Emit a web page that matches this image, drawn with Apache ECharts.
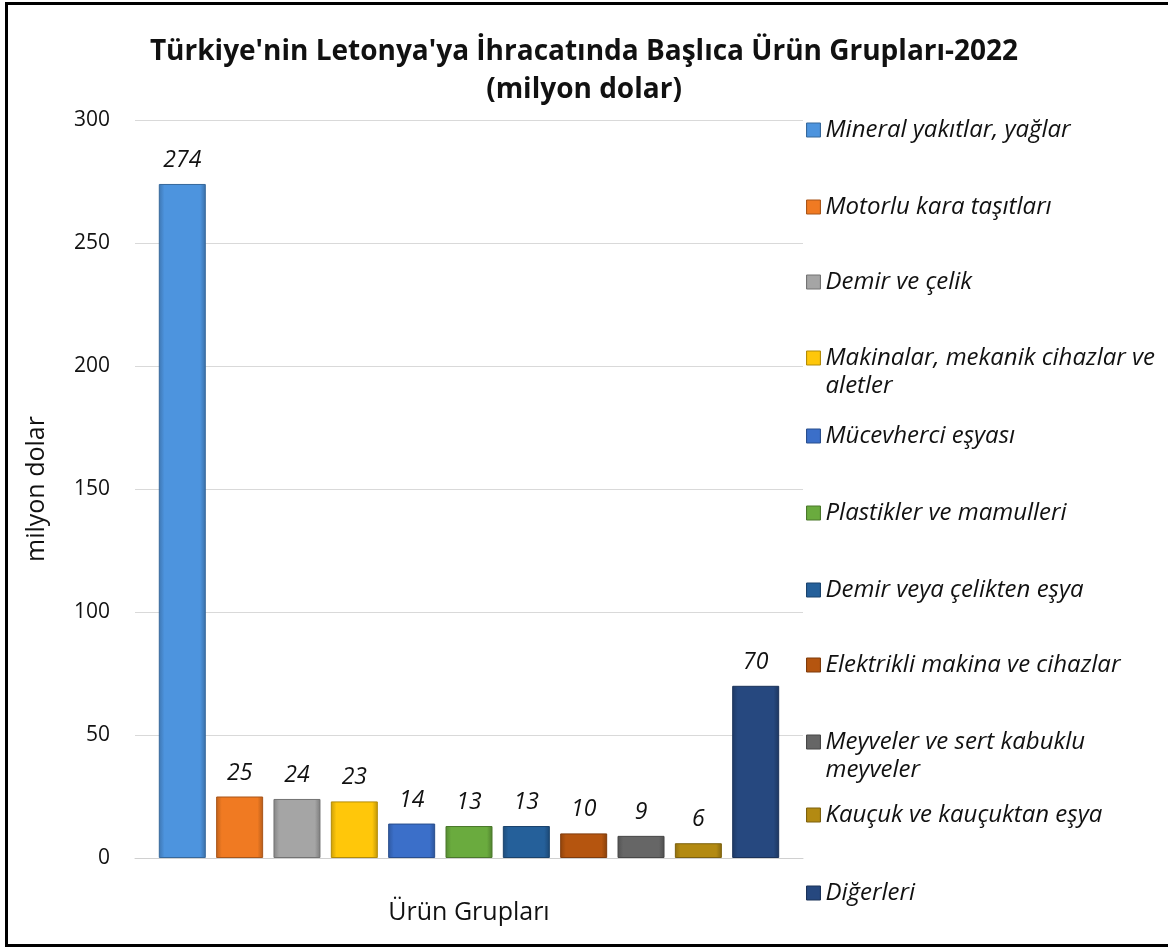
<!DOCTYPE html>
<html>
<head>
<meta charset="utf-8">
<script src="https://cdn.jsdelivr.net/npm/echarts@6/dist/echarts.min.js"></script>
<style>
    html, body {margin: 0; padding: 0; background: #fff;}
    #chart {width: 1168px; height: 950px;}
</style>
</head>
<body>
<div id="chart"></div>
<script>
// veriler
const productGroups = [
    'Mineral yakıtlar, yağlar',
    'Motorlu kara taşıtları',
    'Demir ve çelik',
    'Makinalar, mekanik cihazlar ve aletler',
    'Mücevherci eşyası',
    'Plastikler ve mamulleri',
    'Demir veya çelikten eşya',
    'Elektrikli makina ve cihazlar',
    'Meyveler ve sert kabuklu meyveler',
    'Kauçuk ve kauçuktan eşya',
    'Diğerleri',
]
const exportValues = [274, 25, 24, 23, 14, 13, 13, 10, 9, 6, 70]
const categories = ['Ürün Grupları']

const barColors = ['#4d94de', '#f07a22', '#a5a5a5', '#ffc70a', '#3b6fc9', '#6aab3e',
    '#25609a', '#b5550f', '#666666', '#b38a12', '#26487f']
// legend satırlarının y merkezleri (ilk satır)
const legendRows = [130, 207, 282, 358, 436, 513, 590, 665, 742, 815, 893]
const twoLine = [false, false, false, true, false, false, false, false, true, false, false]

const FONT = '"Open Sans"'

const shade = (hex, f) => {
    const n = parseInt(hex.slice(1), 16)
    const r = Math.round(((n >> 16) & 255) * f)
    const g = Math.round(((n >> 8) & 255) * f)
    const b = Math.round((n & 255) * f)
    return `rgb(${r},${g},${b})`
}

const bevel = (c) => ({
    type: 'linear', x: 0, y: 0, x2: 1, y2: 0,
    colorStops: [
        {offset: 0, color: shade(c, 0.8)},
        {offset: 0.12, color: c},
        {offset: 0.88, color: c},
        {offset: 1, color: shade(c, 0.75)},
    ],
})

const chart = echarts.init(document.getElementById('chart'))

const series = productGroups.map((name, i) => ({
    name,
    type: 'bar',
    data: [exportValues[i]],
    barWidth: 47,
    barGap: '22%',
    itemStyle: {
        color: bevel(barColors[i]),
        borderColor: shade(barColors[i], 0.7),
        borderWidth: 1,
    },
    label: {
        show: true,
        position: 'top',
        distance: 12,
        fontFamily: FONT,
        fontStyle: 'italic',
        fontSize: 23,
        color: '#111',
    },
    emphasis: {disabled: true},
}))

// iki satırlı öğelerde boş ilk satır: ikon ilk satırla hizalansın
const legends = productGroups.map((name, i) => ({
    data: [{name, icon: 'rect', itemStyle: {color: bevel(barColors[i]), borderColor: shade(barColors[i], 0.7), borderWidth: 1}}],
    left: 806,
    top: twoLine[i] ? legendRows[i] - 42 : legendRows[i] - 14,
    padding: 0,
    itemWidth: 14,
    itemHeight: 14,
    itemGap: 0,
    selectedMode: false,
    formatter: (n) => (twoLine[i] ? '\n' + n : n),
    textStyle: {
        fontFamily: FONT,
        fontStyle: 'italic',
        fontSize: 24,
        color: '#111',
        lineHeight: 28,
        width: 340,
        overflow: 'break',
    },
}))

chart.setOption({
    animation: false,
    title: {
        text: "Türkiye'nin Letonya'ya İhracatında Başlıca Ürün Grupları-2022\n(milyon dolar)",
        left: 'center',
        top: 28,
        textStyle: {fontFamily: FONT, fontWeight: 'bold', fontSize: 28, lineHeight: 38, color: '#111'},
    },
    legend: legends,
    grid: {left: 135, right: 365, top: 120, bottom: 92},
    xAxis: {
        type: 'category',
        data: categories,
        name: 'Ürün Grupları',
        nameLocation: 'middle',
        nameGap: 42,
        nameTextStyle: {fontFamily: FONT, fontSize: 25, color: '#111'},
        axisLabel: {show: false},
        axisTick: {show: false},
        axisLine: {lineStyle: {color: '#d0d0d0', width: 1}},
    },
    yAxis: {
        type: 'value',
        min: 0,
        max: 300,
        interval: 50,
        name: 'milyon dolar',
        nameLocation: 'middle',
        nameGap: 86,
        nameTextStyle: {fontFamily: FONT, fontSize: 25, color: '#111'},
        axisLabel: {fontFamily: FONT, fontSize: 21, color: '#111', margin: 25},
        axisLine: {show: false},
        axisTick: {show: false},
        splitLine: {lineStyle: {color: '#d9d9d9', width: 1}},
    },
    graphic: [{
        type: 'rect',
        shape: {x: 6.5, y: 3.5, width: 1170, height: 942},
        style: {fill: 'none', stroke: '#000', lineWidth: 3},
        silent: true,
    }],
    series,
})
</script>
</body>
</html>
